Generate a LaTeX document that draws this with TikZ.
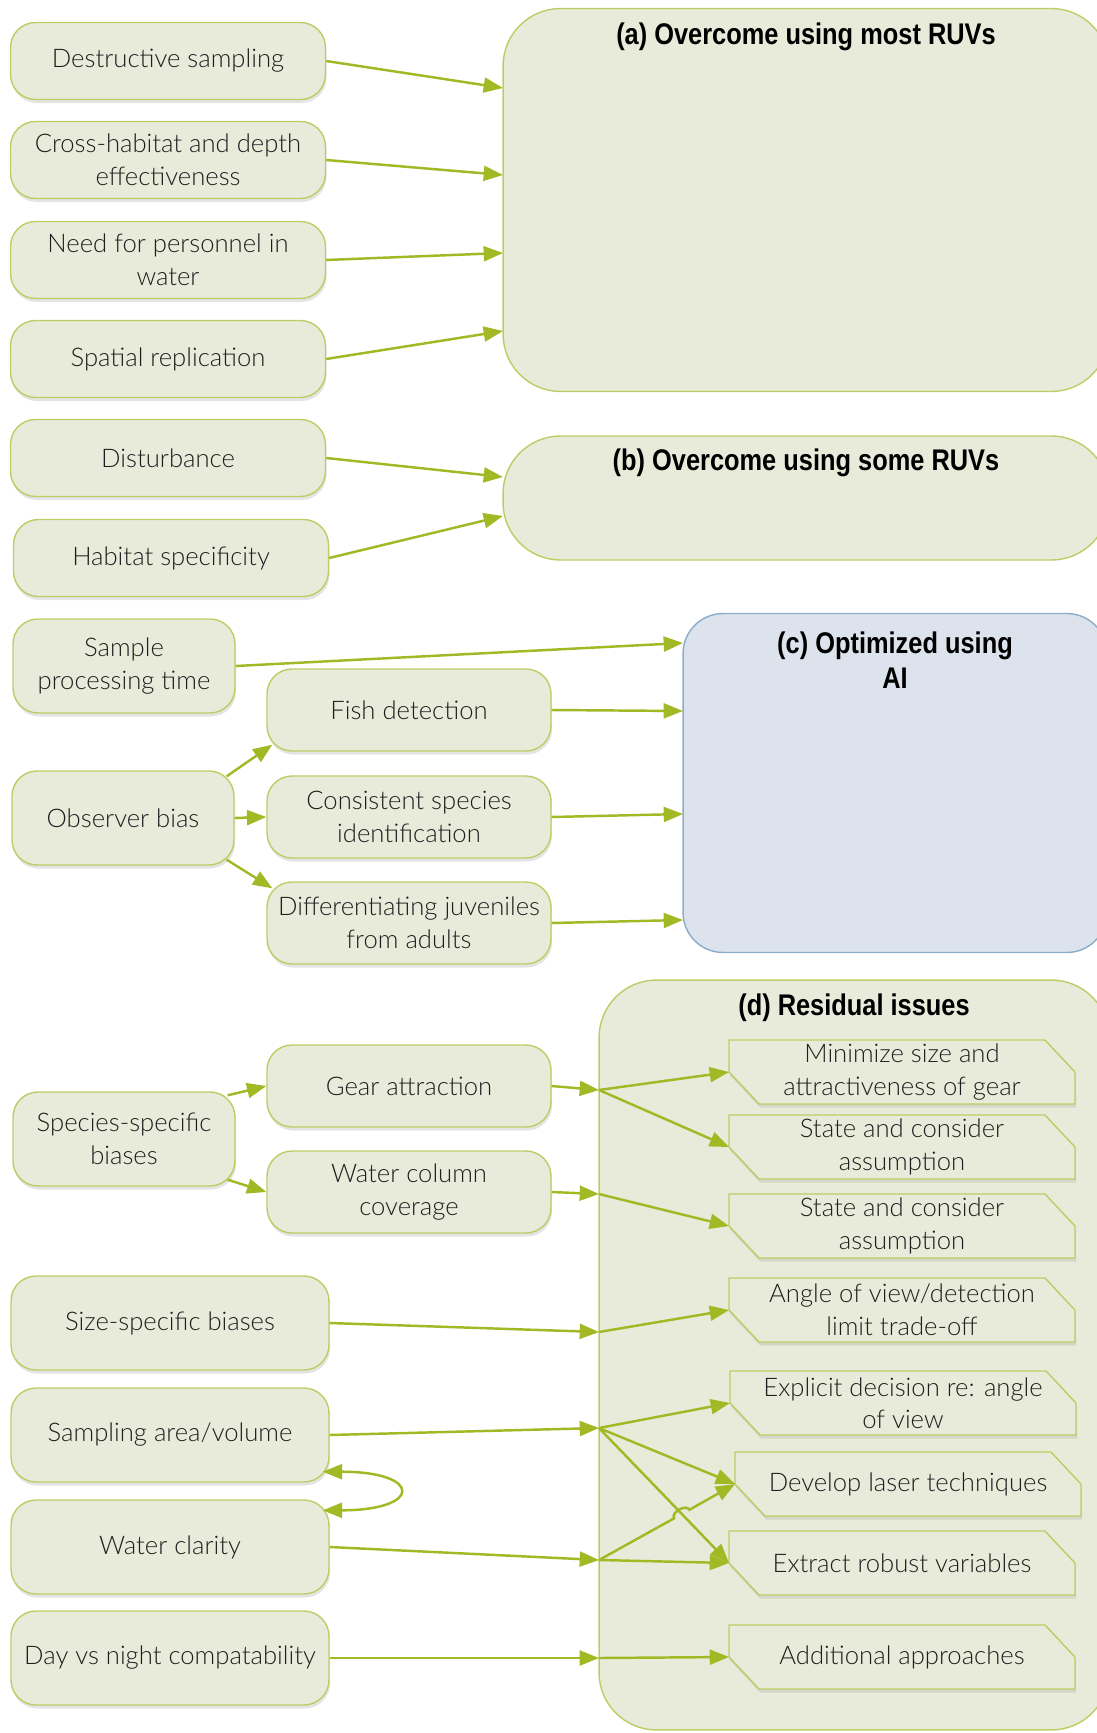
\documentclass[tikz,border=0pt]{standalone}
\usepackage{fontspec}
\setmainfont{Lato Light}
\newfontfamily\headfont[FakeStretch=0.85]{Liberation Sans}
\usetikzlibrary{positioning,calc,shadows,arrows.meta}
\definecolor{issuefill}{RGB}{232,235,218}
\definecolor{issueline}{RGB}{190,204,100}
\definecolor{linkgreen}{RGB}{162,184,36}
\definecolor{aifill}{RGB}{220,227,236}
\definecolor{ailine}{RGB}{140,172,200}
\definecolor{inktext}{RGB}{30,30,30}

\makeatletter
\pgfdeclareshape{snipbox}{%
  \inheritsavedanchors[from=rectangle]%
  \inheritanchorborder[from=rectangle]%
  \inheritanchor[from=rectangle]{center}%
  \inheritanchor[from=rectangle]{north}%
  \inheritanchor[from=rectangle]{south}%
  \inheritanchor[from=rectangle]{east}%
  \inheritanchor[from=rectangle]{west}%
  \inheritanchor[from=rectangle]{north east}%
  \inheritanchor[from=rectangle]{north west}%
  \inheritanchor[from=rectangle]{south east}%
  \inheritanchor[from=rectangle]{south west}%
  \backgroundpath{%
    \southwest \edef\snipxa{\the\pgf@x}\edef\snipya{\the\pgf@y}%
    \northeast \edef\snipxb{\the\pgf@x}\edef\snipyb{\the\pgf@y}%
    \pgfmathsetlengthmacro\snipym{(\snipya+\snipyb)/2}%
    \pgfmathsetlengthmacro\snipxr{\snipxb-0.6cm}%
    \pgfmathsetlengthmacro\snipxl{\snipxa+0.6cm}%
    \pgfpathmoveto{\pgfqpoint{\snipxa}{\snipyb}}%
    \pgfpathlineto{\pgfqpoint{\snipxr}{\snipyb}}%
    \pgfpathlineto{\pgfqpoint{\snipxb}{\snipym}}%
    \pgfpathlineto{\pgfqpoint{\snipxb}{\snipya}}%
    \pgfpathlineto{\pgfqpoint{\snipxl}{\snipya}}%
    \pgfpathlineto{\pgfqpoint{\snipxa}{\snipym}}%
    \pgfpathclose
  }%
}
\makeatother

\begin{document}
\begin{tikzpicture}[x=0.02cm, y=-0.02cm,
  issue/.style = {shape=rectangle, rounded corners=0.5cm,
    draw=issueline, line width=0.8pt, fill=issuefill,
    align=center, text=inktext, inner sep=1pt,
    font=\fontsize{14.6}{18.5}\selectfont,
    drop shadow={shadow xshift=0.6pt, shadow yshift=-2pt,
      opacity=0.3, fill=black!35}},
  wide/.style = {issue, minimum width=6.3cm, minimum height=1.54cm},
  tall/.style = {issue, minimum width=6.36cm, minimum height=1.88cm},
  small/.style = {issue, minimum width=4.44cm, minimum height=1.88cm},
  mid/.style = {issue, minimum width=5.68cm, minimum height=1.64cm},
  remedy/.style = {shape=snipbox,
    draw=issueline, line width=0.8pt, fill=issuefill,
    align=center, text=inktext, inner sep=0pt, outer sep=0pt,
    minimum width=6.92cm, minimum height=1.28cm,
    font=\fontsize{14.6}{18.5}\selectfont,
    drop shadow={shadow xshift=0.6pt, shadow yshift=-2pt,
      opacity=0.3, fill=black!35}},
  panel/.style = {shape=rectangle, rounded corners=1.15cm,
    draw=issueline, line width=0.8pt, fill=issuefill},
  panelhead/.style = {font=\headfont\bfseries\fontsize{17}{20}\selectfont,
    align=center},
  link/.style = {draw=linkgreen, line width=1.4pt,
    -{Triangle[length=11pt,width=8.5pt]}}]
  \useasboundingbox (0,0) rectangle (1096,1733);

  \node[panel, minimum width=12.12cm, minimum height=7.66cm] (overa) at (806,200) {};
  \node[panel, minimum width=12.12cm, minimum height=2.48cm] (overb) at (806,498) {};
  \node[panel, rounded corners=0.8cm, draw=ailine, fill=aifill,
    minimum width=8.48cm, minimum height=6.78cm] (optai) at (895,783) {};
  \node[panel, minimum width=10.2cm, minimum height=15cm] (resid) at (854,1355) {};

  \node[panelhead] (heada) at (806,37) {(a) Overcome using most RUVs};
  \node[panelhead] (headb) at (806,463) {(b) Overcome using some RUVs};
  \node[panelhead] (headc) at (895,660) {(c) Optimized using\\AI};
  \node[panelhead] (headd) at (854,1008) {(d) Residual issues};

  \node[wide] (destr) at (168,61) {Destructive sampling};
  \node[wide] (cross) at (168,160) {Cross-habitat and depth\\effectiveness};
  \node[wide] (personnel) at (168,260) {Need for personnel in\\water};
  \node[wide] (spatial) at (168,359) {Spatial replication};
  \node[wide] (disturb) at (168,458) {Disturbance};
  \node[wide] (habitat) at (171,558) {Habitat specificity};

  \node[small] (sample) at (124,666) {Sample\\processing time};
  \node[small] (observer) at (123,818) {Observer bias};
  \node[mid] (fish) at (409,710) {Fish detection};
  \node[mid] (consist) at (409,817) {Consistent species\\identification};
  \node[mid] (juven) at (409,923) {Differentiating juveniles\\from adults};

  \node[small] (species) at (124,1139) {Species-specific\\biases};
  \node[mid] (gear) at (409,1086) {Gear attraction};
  \node[mid] (column) at (409,1192) {Water column\\coverage};
  \node[tall] (sizeb) at (170,1323) {Size-specific biases};
  \node[tall] (area) at (170,1435) {Sampling area/volume};
  \node[tall] (clarity) at (170,1547) {Water clarity};
  \node[tall] (daynight) at (170,1658) {Day vs night compatability};

  \node[remedy] (minim) at (902,1072) {Minimize size and\\attractiveness of gear};
  \node[remedy] (assumea) at (902,1147) {State and consider\\assumption};
  \node[remedy] (assumeb) at (902,1226) {State and consider\\assumption};
  \node[remedy] (angle) at (902,1310) {Angle of view/detection\\limit trade-off};
  \node[remedy] (explicit) at (903,1403) {Explicit decision re: angle\\of view};
  \node[remedy] (laser) at (908,1484) {Develop laser techniques};
  \node[remedy] (robust) at (902,1563) {Extract robust variables};
  \node[remedy] (addit) at (902,1657) {Additional approaches};

  \coordinate (ina1) at (503,88);
  \coordinate (ina2) at (503,175);
  \coordinate (ina3) at (503,253);
  \coordinate (ina4) at (503,331);
  \coordinate (inb1) at (503,477);
  \coordinate (inb2) at (503,516);
  \coordinate (inc1) at (683,643);
  \coordinate (inc2) at (683,711);
  \coordinate (inc3) at (683,814);
  \coordinate (inc4) at (683,920);
  \coordinate (jgear) at (599,1090);
  \coordinate (jcol) at (599,1194);
  \coordinate (jsize) at (599,1332);
  \coordinate (jarea) at (599,1428);
  \coordinate (jclar) at (599,1560);
  \coordinate (jday) at (599,1658);

  \draw[link] (destr.east) -- (ina1);
  \draw[link] (cross.east) -- (ina2);
  \draw[link] (personnel.east) -- (ina3);
  \draw[link] (spatial.east) -- (ina4);
  \draw[link] (disturb.east) -- (inb1);
  \draw[link] (habitat.east) -- (inb2);

  \draw[link] (sample.east) -- (inc1);
  \draw[link] (fish.east) -- (inc2);
  \draw[link] (consist.east) -- (inc3);
  \draw[link] (juven.east) -- (inc4);
  \draw[link] ($(observer.north east)+(-8,6)$) -- ($(fish.south west)+(6,-7)$);
  \draw[link] (observer.east) -- (consist.west);
  \draw[link] ($(observer.south east)+(-8,-6)$) -- ($(juven.north west)+(6,7)$);

  \draw[link] ($(species.north east)+(-8,4)$) -- (gear.west);
  \draw[link] ($(species.south east)+(-8,-7)$) -- (column.west);
  \draw[link] (gear.east) -- (jgear);
  \draw[link] (column.east) -- (jcol);
  \draw[link] (sizeb.east) -- (jsize);
  \draw[link] (area.east) -- (jarea);
  \draw[link] (clarity.east) -- (jclar);
  \draw[link] (daynight.east) -- (jday);

  \draw[link] (jgear) -- (minim.west);
  \draw[link] (jgear) -- (assumea.west);
  \draw[link] (jcol) -- (assumeb.west);
  \draw[link] (jsize) -- (angle.west);
  \draw[link] (jarea) -- (explicit.west);
  \draw[link] (jarea) -- (laser.west);
  \draw[link] (jarea) -- (robust.west);
  \draw[link] (jclar) -- (robust.west);
  \coordinate (hop) at (intersection of jarea--robust.west and jclar--laser.west);
  \draw[link] (jclar) -- ($(hop)!5pt!(jclar)$)
    to[bend left=90] ($(hop)!5pt!(laser.west)$) -- (laser.west);
  \draw[link] (jday) -- (addit.west);

  \coordinate (loopup) at ($(area.south east)+(-7,-11)$);
  \coordinate (loopdown) at ($(clarity.north east)+(-7,11)$);
  \draw[link, {Triangle[length=11pt,width=8.5pt]}-{Triangle[length=11pt,width=8.5pt]}]
    (loopup) .. controls +(100,0) and +(100,0) .. (loopdown);
\end{tikzpicture}
\end{document}
